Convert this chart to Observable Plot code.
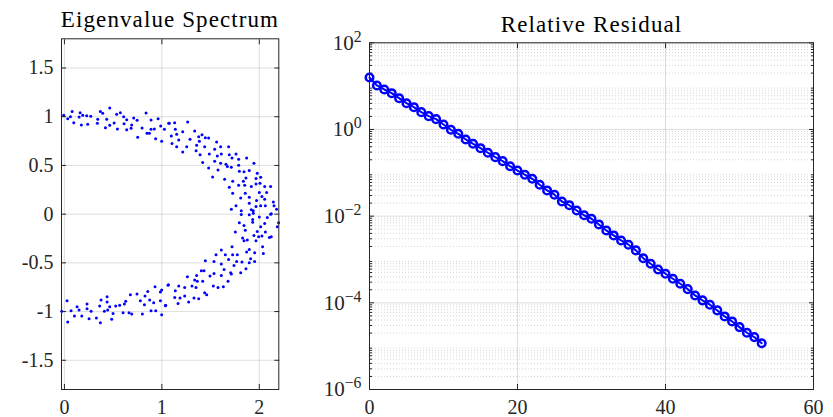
<!DOCTYPE html>
<html><head><meta charset="utf-8">
<script src="https://cdn.jsdelivr.net/npm/d3@7"></script>
<script src="https://cdn.jsdelivr.net/npm/@observablehq/plot@0.6"></script>
<style>
html,body{margin:0;padding:0;background:#fff;}
#root{position:relative;width:833px;height:417px;overflow:hidden;}
#root svg{position:absolute;top:0;background:transparent;}
</style></head><body><div id="root"></div>
<script>
// ---------- Data ----------
const eigRe = [
 -0.007,0.034,0.062,0.079,0.096,0.151,0.161,0.174,0.188,0.229,0.239,0.270,0.342,0.338,0.369,0.393,0.421,0.434,0.465,0.465,0.510,0.536,0.544,0.574,0.608,0.612,0.639,0.639,0.684,0.690,0.711,0.746,0.752,0.797,0.838,0.848,0.872,0.889,0.889,0.923,0.936,0.961,0.988,0.998,1.026,1.070,
 1.077,1.131,1.265,1.138,1.214,1.097,1.152,1.173,1.104,1.152,1.214,1.255,1.289,1.337,1.378,1.412,1.385,1.357,1.351,1.392,1.419,1.446,1.480,1.439,1.487,1.480,1.521,1.542,1.562,1.542,1.569,1.576,1.603,1.603,1.658,1.672,1.610,1.685,1.692,1.644,1.720,1.761,1.713,1.788,1.788,1.795,1.843,1.870,1.863,1.897,1.945,1.836,1.850,1.788,1.727,1.692,1.727,1.809,1.856,1.897,1.918,1.966,1.979,2.014,1.966,2.007,2.055,2.116,2.000,2.075,2.027,2.055,1.972,1.897,1.966,2.014,2.062,2.144,2.151,2.177,2.123,1.761,1.713,1.815,1.918,1.938,
 -0.027,0.027,0.034,0.068,0.103,0.130,0.150,0.178,0.232,0.232,0.253,0.274,0.328,0.362,0.376,0.369,0.410,0.438,0.438,0.444,0.465,0.485,0.499,0.526,0.567,0.602,0.615,0.629,0.663,0.677,0.691,0.745,0.779,0.800,0.821,0.827,0.855,0.875,0.889,0.916,0.930,0.937,0.985,0.985,0.998,0.998,1.039,1.067,
 1.036,1.063,1.132,1.138,1.166,1.173,1.186,1.234,1.234,1.262,1.275,1.309,1.330,1.337,1.350,1.357,1.378,1.364,1.405,1.419,1.432,1.439,1.446,1.460,1.494,1.535,1.528,1.535,1.556,1.576,1.610,1.610,1.610,1.631,1.638,1.651,1.679,1.685,1.706,1.713,1.720,1.726,1.740,1.754,1.767,1.774,1.795,1.809,1.815,1.822,1.829,1.843,1.843,1.856,1.863,1.870,1.877,1.897,1.897,1.897,1.911,1.932,1.932,1.938,1.945,1.952,1.952,1.966,1.979,1.993,2.000,2.014,2.027,2.034,2.041,2.055,2.062,2.082,2.103,2.123,2.116,2.185,2.198
];
const eigIm = [
 1.014,0.980,1.000,1.055,0.939,0.997,1.041,0.915,1.014,1.010,0.922,1.004,0.973,0.932,1.055,1.035,0.887,0.973,1.089,0.912,0.935,1.025,0.874,1.041,1.000,0.928,0.969,0.867,0.881,0.915,0.987,0.963,0.789,0.884,1.038,0.830,0.830,0.966,0.871,0.874,0.775,0.980,0.905,0.748,0.871,0.932,
 0.932,0.939,0.946,0.871,0.847,0.802,0.820,0.761,0.724,0.693,0.638,0.693,0.768,0.854,0.795,0.816,0.748,0.707,0.652,0.611,0.529,0.785,0.782,0.693,0.618,0.474,0.382,0.666,0.741,0.543,0.597,0.454,0.693,0.523,0.512,0.488,0.618,0.693,0.611,0.359,0.577,0.618,0.482,0.564,0.502,0.441,0.434,0.577,0.372,0.447,0.523,0.338,0.297,0.297,0.338,0.277,0.215,0.167,0.215,0.174,0.283,0.365,0.420,0.379,0.310,0.318,0.283,0.283,0.221,0.221,0.180,0.154,0.139,0.113,0.078,0.085,0.085,0.126,0.085,0.051,0.003,0.085,0.051,-0.004,0.044,0.010,
 -0.998,-0.888,-1.107,-0.991,-1.045,-0.950,-0.984,-1.045,-0.922,-0.970,-1.073,-0.997,-1.066,-0.943,-0.881,-1.114,-0.997,-0.847,-0.902,-0.984,-0.950,-1.080,-1.019,-0.943,-0.936,-1.011,-0.922,-0.895,-1.011,-0.827,-1.025,-0.820,-0.888,-1.025,-0.929,-0.840,-0.793,-0.881,-0.991,-0.909,-0.745,-0.991,-0.799,-0.888,-0.779,-1.032,-0.936,-0.724,
 -0.940,-0.731,-0.855,-0.786,-0.916,-0.738,-0.861,-0.840,-0.752,-0.642,-0.902,-0.738,-0.861,-0.676,-0.752,-0.629,-0.868,-0.690,-0.581,-0.690,-0.581,-0.806,-0.478,-0.827,-0.635,-0.608,-0.738,-0.485,-0.417,-0.752,-0.629,-0.512,-0.369,-0.745,-0.568,-0.417,-0.690,-0.465,-0.601,-0.615,-0.335,-0.417,-0.527,-0.184,-0.485,-0.417,-0.089,-0.601,0.034,-0.492,-0.246,-0.274,-0.117,-0.164,-0.560,-0.389,-0.266,-0.007,-0.363,-0.499,-0.458,-0.055,-0.082,0.034,-0.219,-0.397,-0.485,-0.274,-0.178,-0.232,-0.028,-0.130,-0.225,-0.335,-0.403,-0.096,-0.184,-0.035,-0.240,-0.233,0.000,-0.130,-0.089
];
const iterations = [0,1,2,3,4,5,6,7,8,9,10,11,12,13,14,15,16,17,18,19,20,21,22,23,24,25,26,27,28,29,30,31,32,33,34,35,36,37,38,39,40,41,42,43,44,45,46,47,48,49,50,51,52,53];
const residuals = [15.8,10.35,8.37,6.88,5.27,4.04,3.27,2.51,2.03,1.73,1.30,0.984,0.796,0.588,0.468,0.370,0.290,0.230,0.186,0.142,0.113,0.0902,0.0729,0.0530,0.0392,0.0312,0.0218,0.0179,0.0135,0.0105,0.00871,0.00644,0.00468,0.00359,0.00275,0.00219,0.00162,0.00107,0.000798,0.000589,0.000469,0.000360,0.000276,0.000207,0.000148,0.000114,0.0000904,0.0000668,0.0000485,0.0000372,0.0000275,0.0000204,0.0000162,0.0000117];

const leftTitle = "Eigenvalue Spectrum";
const rightTitle = "Relative Residual";
const leftXTicks = [0,1,2];
const leftYTicks = [-1.5,-1,-0.5,0,0.5,1,1.5];
const rightXTicks = [0,20,40,60];
const rightYTicks = [1e-6,1e-4,1e-2,1e0,1e2];
const rightYDecades = [1e-6,1e-5,1e-4,1e-3,1e-2,1e-1,1e0,1e1];
const logMinorFactors = [2,3,4,5,6,7,8,9];

// ---------- Style ----------
const axisColor = "#262626";
const blue = "#0000ff";
const FONT = "'Liberation Serif', 'DejaVu Serif', serif";
const FS = 20;
const gridOpts = {stroke: "#000", strokeOpacity: 0.13, strokeWidth: 1};

const eigData = eigRe.map((re, i) => ({re, im: eigIm[i]}));
const resData = iterations.map((it, i) => ({it, res: residuals[i]}));
const minorY = rightYDecades.flatMap(d => logMinorFactors.map(f => f * d));

function tickMarks(axis, anchor, ticks, size) {
  const fn = axis === "x" ? Plot.axisX : Plot.axisY;
  return fn({anchor, ticks, tickSize: -size, fill: "none", label: null, stroke: axisColor, strokeWidth: 1});
}

const root = document.getElementById("root");

// ---------- Left panel ----------
const left = Plot.plot({
  width: 300, height: 417,
  marginLeft: 61, marginRight: 21.7, marginTop: 38.3, marginBottom: 28,
  style: {fontFamily: FONT, fontSize: FS + "px", color: axisColor, background: "transparent"},
  x: {domain: [-0.03, 2.2], label: null},
  y: {domain: [-1.8, 1.8], label: null},
  marks: [
    Plot.gridX(leftXTicks, gridOpts),
    Plot.gridY(leftYTicks, gridOpts),
    Plot.dot(eigData, {x: "re", y: "im", r: 1.5, fill: blue, stroke: "none"}),
    Plot.frame({stroke: axisColor, strokeWidth: 1}),
    tickMarks("x", "bottom", leftXTicks, 5),
    tickMarks("x", "top", leftXTicks, 5),
    tickMarks("y", "left", leftYTicks, 5),
    tickMarks("y", "right", leftYTicks, 5),
    Plot.axisX({anchor: "bottom", ticks: leftXTicks, tickSize: 0, tickPadding: 10, label: null, fontSize: FS, fill: axisColor, tickFormat: d => String(d)}),
    Plot.axisY({anchor: "left", ticks: leftYTicks, tickSize: 0, tickPadding: 8, label: null, fontSize: FS, fill: axisColor, tickFormat: d => String(d)})
  ]
});
left.style.left = "0px";
d3.select(left).append("text")
  .attr("x", 170).attr("y", 27).attr("text-anchor", "middle")
  .attr("font-family", FONT).attr("font-size", 23).attr("letter-spacing", "1.1px").attr("fill", "#000")
  .text(leftTitle);
root.appendChild(left);

// ---------- Right panel ----------
const right = Plot.plot({
  width: 533, height: 417,
  marginLeft: 69, marginRight: 20, marginTop: 42.3, marginBottom: 28,
  style: {fontFamily: FONT, fontSize: FS + "px", color: axisColor, background: "transparent"},
  x: {domain: [0, 60], label: null},
  y: {type: "log", domain: [1e-6, 1e2], label: null},
  marks: [
    Plot.ruleY(minorY, {stroke: "#000", strokeOpacity: 0.16, strokeDasharray: "1,2", strokeWidth: 1}),
    Plot.gridY(rightYTicks, gridOpts),
    Plot.gridX(rightXTicks, gridOpts),
    Plot.line(resData, {x: "it", y: "res", stroke: blue, strokeWidth: 2}),
    Plot.dot(resData, {x: "it", y: "res", r: 3.8, stroke: blue, strokeWidth: 2.5, fill: "none"}),
    Plot.frame({stroke: axisColor, strokeWidth: 1}),
    tickMarks("x", "bottom", rightXTicks, 5),
    tickMarks("x", "top", rightXTicks, 5),
    tickMarks("y", "left", rightYTicks, 5),
    tickMarks("y", "right", rightYTicks, 5),
    tickMarks("y", "left", minorY, 3),
    tickMarks("y", "right", minorY, 3),
    Plot.axisX({anchor: "bottom", ticks: rightXTicks, tickSize: 0, tickPadding: 10, label: null, fontSize: FS, fill: axisColor, tickFormat: d => String(d)}),
    Plot.axisY({anchor: "left", ticks: rightYTicks, tickSize: 0, tickPadding: 8, label: null, fontSize: 21, fill: axisColor, tickFormat: d => String(Math.round(Math.log10(d)))})
  ]
});
right.style.left = "300px";
// superscript exponents on log tick labels
d3.select(right).selectAll('g[aria-label="y-axis tick label"] text').each(function() {
  const e = this.textContent;
  if (e === "") return;
  const t = d3.select(this);
  t.text(null);
  t.append("tspan").text("10");
  t.append("tspan").attr("dy", "-0.5em").attr("font-size", "0.75em").text(e.replace("-", "\u2212"));
});
d3.select(right).append("text")
  .attr("x", 291.5).attr("y", 31.5).attr("text-anchor", "middle")
  .attr("font-family", FONT).attr("font-size", 23).attr("letter-spacing", "1.1px").attr("fill", "#000")
  .text(rightTitle);
root.appendChild(right);
</script>
</body></html>
